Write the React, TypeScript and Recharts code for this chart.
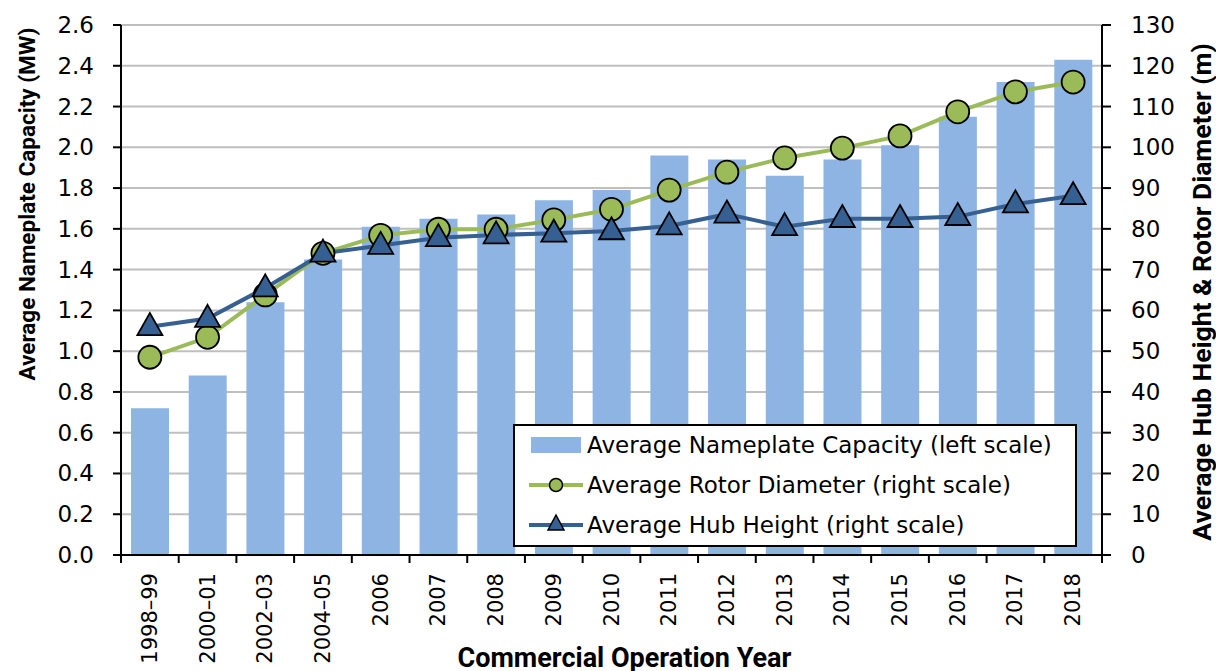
import { ComposedChart, Bar, Line, XAxis, YAxis, CartesianGrid, Legend } from 'recharts';

const years = ['1998–99', '2000–01', '2002–03', '2004–05', '2006', '2007', '2008', '2009', '2010', '2011', '2012', '2013', '2014', '2015', '2016', '2017', '2018'];
const capacityMW = [0.72, 0.88, 1.24, 1.45, 1.61, 1.65, 1.67, 1.74, 1.79, 1.96, 1.94, 1.86, 1.94, 2.01, 2.15, 2.32, 2.43];
const rotorDiameter = [48.5, 53.4, 63.8, 74.0, 78.4, 79.9, 79.9, 82.2, 84.8, 89.5, 93.9, 97.4, 99.8, 102.8, 108.7, 113.6, 116.0];
const hubHeight = [56.0, 58.0, 65.5, 74.0, 75.9, 77.8, 78.5, 78.9, 79.5, 80.7, 83.6, 80.5, 82.5, 82.5, 83.0, 86.1, 88.1];
const leftTicks = [0, 0.2, 0.4, 0.6, 0.8, 1.0, 1.2, 1.4, 1.6, 1.8, 2.0, 2.2, 2.4, 2.6];
const rightTicks = [0, 10, 20, 30, 40, 50, 60, 70, 80, 90, 100, 110, 120, 130];

const data = years.map((year, i) => ({
  year,
  capacity: capacityMW[i],
  rotor: rotorDiameter[i],
  hub: hubHeight[i],
}));

const BAR = '#8EB4E3';
const GREEN = '#9BBB59';
const BLUE = '#366092';
const FONT = '"DejaVu Sans", sans-serif';
const TITLE_FONT = 'Roboto, sans-serif';

const XTick = (props: any) => {
  const { x, y, payload, index, width, visibleTicksCount } = props;
  const step = width / visibleTicksCount;
  return (
    <g>
      {index === 0 && <line x1={x - step / 2} y1={y} x2={x - step / 2} y2={y + 8} stroke="#000" strokeWidth={2} />}
      <line x1={x + step / 2} y1={y} x2={x + step / 2} y2={y + 8} stroke="#000" strokeWidth={2} />
      <text
        x={x}
        y={y + 18}
        transform={`rotate(-90, ${x}, ${y + 18})`}
        textAnchor="end"
        dominantBaseline="central"
        fontFamily={FONT}
        fontSize={21}
        fill="#000"
      >
        {payload.value}
      </text>
    </g>
  );
};

const YTick = (props: any) => {
  const { x, y, payload, textAnchor } = props;
  const label = typeof payload.value === 'number' && props.decimals ? payload.value.toFixed(1) : String(payload.value);
  return (
    <text x={x} y={y} textAnchor={textAnchor} dominantBaseline="central" fontFamily={FONT} fontSize={23} fill="#000">
      {label}
    </text>
  );
};

const Circle = (props: any) => {
  const { cx, cy } = props;
  if (cx == null || cy == null) return null;
  return <circle cx={cx} cy={cy} r={11.5} fill={GREEN} stroke="#000" strokeWidth={1.8} />;
};

const Triangle = (props: any) => {
  const { cx, cy } = props;
  if (cx == null || cy == null) return null;
  const h = 22;
  const w = 25;
  return (
    <path
      d={`M${cx},${cy - h * 0.62} L${cx + w / 2},${cy + h * 0.38} L${cx - w / 2},${cy + h * 0.38} Z`}
      fill={BLUE}
      stroke="#000"
      strokeWidth={1.8}
    />
  );
};

const LegendBox = () => {
  const rows = [
    { label: 'Average Nameplate Capacity (left scale)', kind: 'bar' },
    { label: 'Average Rotor Diameter (right scale)', kind: 'circle' },
    { label: 'Average Hub Height (right scale)', kind: 'triangle' },
  ];
  return (
    <div style={{ width: 560, height: 119, border: '2px solid #000', background: '#fff', boxSizing: 'content-box' }}>
      {rows.map((r) => (
        <div key={r.label} style={{ height: 40, display: 'flex', alignItems: 'center', marginTop: r.kind === 'bar' ? -1 : 0 }}>
          <svg width={72} height={30} style={{ flex: 'none' }}>
            {r.kind === 'bar' && <rect x={16} y={7} width={50} height={16} fill={BAR} />}
            {r.kind === 'circle' && (
              <g>
                <line x1={14} y1={15} x2={68} y2={15} stroke={GREEN} strokeWidth={4} />
                <circle cx={41} cy={15} r={6.5} fill={GREEN} stroke="#000" strokeWidth={1.5} />
              </g>
            )}
            {r.kind === 'triangle' && (
              <g>
                <line x1={14} y1={15} x2={68} y2={15} stroke={BLUE} strokeWidth={4} />
                <path d="M41,5 L49,20 L33,20 Z" fill={BLUE} stroke="#000" strokeWidth={1.5} />
              </g>
            )}
          </svg>
          <span style={{ fontFamily: FONT, fontSize: 23, whiteSpace: 'nowrap', lineHeight: '30px' }}>{r.label}</span>
        </div>
      ))}
    </div>
  );
};

const LeftTitle = (props: any) => {
  const { viewBox } = props;
  const x = viewBox.x + 27;
  const y = viewBox.y + 179;
  return (
    <text x={x} y={y} transform={`rotate(-90, ${x}, ${y})`} textAnchor="middle" dominantBaseline="central" fontFamily={TITLE_FONT} fontWeight="bold" fontSize={22.5} fill="#000">
      Average Nameplate Capacity (MW)
    </text>
  );
};

const RightTitle = (props: any) => {
  const { viewBox } = props;
  const x = viewBox.x + 99;
  const y = viewBox.y + viewBox.height / 2 + 2;
  return (
    <text x={x} y={y} transform={`rotate(-90, ${x}, ${y})`} textAnchor="middle" dominantBaseline="central" fontFamily={TITLE_FONT} fontWeight="bold" fontSize={26.5} fill="#000">
      Average Hub Height &amp; Rotor Diameter (m)
    </text>
  );
};

const BottomTitle = (props: any) => {
  const { viewBox } = props;
  const x = viewBox.x + viewBox.width / 2 + 13;
  const y = viewBox.y + 112;
  return (
    <text x={x} y={y} textAnchor="middle" fontFamily={TITLE_FONT} fontWeight="bold" fontSize={27} fill="#000">
      Commercial Operation Year
    </text>
  );
};

export default function App() {
  return (
    <div style={{ position: 'absolute', left: 0, top: 0, width: 1216, height: 671, background: '#fff' }}>
      <ComposedChart width={1216} height={671} data={data} margin={{ top: 25, right: 0, bottom: 0, left: 0 }} barSize={38}>
        <CartesianGrid yAxisId="left" vertical={false} stroke="#bfbfbf" strokeWidth={2} />
        <XAxis
          dataKey="year"
          height={116}
          interval={0}
          tick={<XTick />}
          tickLine={false}
          tickSize={0}
          tickMargin={0}
          axisLine={{ stroke: '#000', strokeWidth: 2 }}
          label={<BottomTitle />}
        />
        <YAxis
          yAxisId="left"
          width={121}
          domain={[0, 2.6]}
          ticks={leftTicks}
          interval={0}
          tick={<YTick decimals />}
          tickSize={8}
          tickMargin={19}
          tickLine={{ stroke: '#000', strokeWidth: 2 }}
          axisLine={{ stroke: '#000', strokeWidth: 2 }}
          label={<LeftTitle />}
        />
        <YAxis
          yAxisId="right"
          orientation="right"
          width={114}
          domain={[0, 130]}
          ticks={rightTicks}
          interval={0}
          tick={<YTick />}
          tickSize={9}
          tickMargin={20}
          tickLine={{ stroke: '#000', strokeWidth: 2 }}
          axisLine={{ stroke: '#000', strokeWidth: 2 }}
          label={<RightTitle />}
        />
        <Bar yAxisId="left" dataKey="capacity" fill={BAR} isAnimationActive={false} />
        <Line yAxisId="right" dataKey="rotor" stroke={GREEN} strokeWidth={4} dot={<Circle />} activeDot={false} isAnimationActive={false} />
        <Line yAxisId="right" dataKey="hub" stroke={BLUE} strokeWidth={4} dot={<Triangle />} activeDot={false} isAnimationActive={false} />
        <Legend
          layout="vertical"
          align="center"
          verticalAlign="middle"
          content={<LegendBox />}
          wrapperStyle={{ left: 513, top: 424, width: 564 }}
        />
      </ComposedChart>
    </div>
  );
}
